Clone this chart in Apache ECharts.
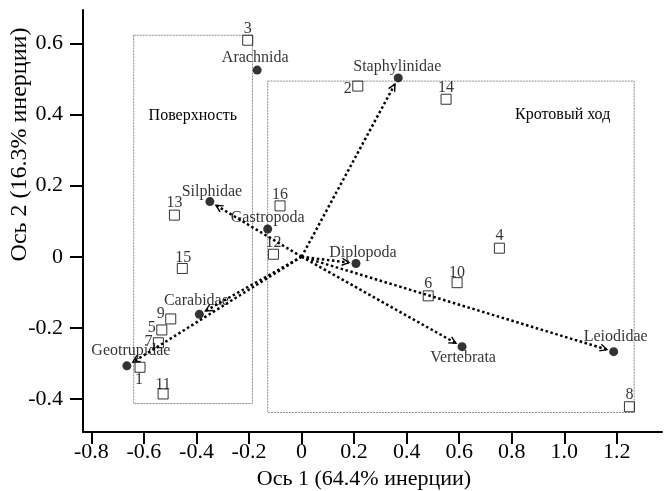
<!DOCTYPE html>
<html><head><meta charset="utf-8">
<script src="https://cdn.jsdelivr.net/npm/echarts@6/dist/echarts.min.js"></script>
<style>html,body{margin:0;padding:0;background:#fff}#c{width:664px;height:491px}</style>
</head><body><div id="c"></div>
<script>
// ---- data ----
const taxaNames = ['Arachnida','Staphylinidae','Silphidae','Gastropoda','Diplopoda','Carabidae','Geotrupidae','Vertebrata','Leiodidae'];
const taxaX = [-0.169, 0.368, -0.349, -0.129, 0.207, -0.389, -0.665, 0.611, 1.188];
const taxaY = [0.525, 0.503, 0.155, 0.078, -0.019, -0.162, -0.307, -0.253, -0.267];
const arrowTaxa = ['Staphylinidae','Silphidae','Diplopoda','Carabidae','Geotrupidae','Vertebrata','Leiodidae'];
const siteNames = ['1','2','3','4','5','6','7','8','9','10','11','12','13','14','15','16'];
const siteX = [-0.615, 0.214, -0.205, 0.753, -0.532, 0.482, -0.545, 1.248, -0.498, 0.592, -0.527, -0.107, -0.484, 0.550, -0.454, -0.082];
const siteY = [-0.311, 0.480, 0.609, 0.024, -0.206, -0.110, -0.242, -0.422, -0.175, -0.073, -0.386, 0.007, 0.117, 0.443, -0.033, 0.143];
const groupNames = ['Поверхность','Кротовый ход'];
const groupXMin = [-0.639, -0.129];
const groupXMax = [-0.187, 1.266];
const groupYMin = [-0.413, -0.438];
const groupYMax = [0.623, 0.494];
const groupLabelX = [-0.414, 0.994];
const groupLabelY = [0.397, 0.400];
const xTicks = [-0.8, -0.6, -0.4, -0.2, 0, 0.2, 0.4, 0.6, 0.8, 1.0, 1.2];
const yTicks = [-0.4, -0.2, 0, 0.2, 0.4, 0.6];
const xTitle = 'Ось 1 (64.4% инерции)';
const yTitle = 'Ось 2 (16.3% инерции)';

// ---- label placement (pixels, relative to mark centre) ----
const taxaLabelOffset = {
  Arachnida:[-2,-12], Staphylinidae:[-1,-11], Silphidae:[2,-10], Gastropoda:[0,-11],
  Diplopoda:[7,-11], Carabidae:[-3,-14], Geotrupidae:[4,-15], Vertebrata:[1,11], Leiodidae:[2,-15]
};
const siteLabelOffset = {
  '1':[-1,13], '2':[-10,3], '3':[0,-11], '4':[0,-12], '5':[-10,-2], '6':[0,-12], '7':[-10,-1],
  '8':[0,-12], '9':[-10,-5], '10':[0,-10], '11':[0,-9], '12':[0,-11], '13':[0,-12], '14':[0,-11],
  '15':[1,-11], '16':[0,-11]
};

const FONT = '"Liberation Serif","Times New Roman",serif';
const chart = echarts.init(document.getElementById('c'), null, {renderer:'canvas'});

const taxaData = taxaNames.map((n,i)=>({name:n, value:[taxaX[i], taxaY[i]], label:{offset:taxaLabelOffset[n]}}));
const siteData = siteNames.map((n,i)=>({name:n, value:[siteX[i], siteY[i]], label:{offset:siteLabelOffset[n]}}));
const arrowData = arrowTaxa.map(n=>{const i=taxaNames.indexOf(n); return [taxaX[i], taxaY[i]];});
const rectData = groupNames.map((n,i)=>[groupXMin[i], groupYMin[i], groupXMax[i], groupYMax[i]]);
const groupLabelData = groupNames.map((n,i)=>[groupLabelX[i], groupLabelY[i], i]);

const option = {
  backgroundColor:'#fff',
  animation:false,
  grid:{left:83, right:2, top:10, bottom:59, containLabel:false, outerBoundsMode:'none'},
  xAxis:{
    type:'value', min:-0.832, max:1.372,
    axisLine:{show:true, onZero:false, lineStyle:{color:'#000', width:2}},
    axisTick:{show:true, inside:false, length:12, customValues:xTicks, lineStyle:{color:'#000', width:2}},
    axisLabel:{customValues:xTicks, margin:9, color:'#000', fontFamily:FONT, fontSize:22,
      formatter:v=> Math.abs(v)<1e-9 ? '0' : v.toFixed(1)},
    splitLine:{show:false},
    name:xTitle, nameLocation:'middle', nameGap:36, nameMoveOverlap:false,
    nameTextStyle:{color:'#000', fontFamily:FONT, fontSize:22, padding:[0,17,0,0]}
  },
  yAxis:{
    type:'value', min:-0.493, max:0.694,
    axisLine:{show:true, onZero:false, lineStyle:{color:'#000', width:2}},
    axisTick:{show:true, inside:false, length:13, customValues:yTicks, lineStyle:{color:'#000', width:2}},
    axisLabel:{customValues:yTicks, margin:20, color:'#000', fontFamily:FONT, fontSize:22,
      formatter:v=> Math.abs(v)<1e-9 ? '0' : v.toFixed(1)},
    splitLine:{show:false},
    name:yTitle, nameLocation:'middle', nameGap:51, nameRotate:90, nameMoveOverlap:false,
    nameTextStyle:{color:'#000', fontFamily:FONT, fontSize:24, padding:[0,0,0,153]}
  },
  series:[
    {
      type:'custom', data:rectData, z:1, silent:true,
      renderItem:(params, api)=>{
        const a = api.coord([api.value(0), api.value(3)]);
        const b = api.coord([api.value(2), api.value(1)]);
        return {type:'rect', shape:{x:a[0], y:a[1], width:b[0]-a[0], height:b[1]-a[1]},
          style:{fill:'none', stroke:'#8a8a8a', lineWidth:1, lineDash:[2,1]}};
      }
    },
    {
      type:'custom', data:groupLabelData, z:2, silent:true,
      renderItem:(params, api)=>{
        const p = api.coord([api.value(0), api.value(1)]);
        return {type:'text', x:p[0], y:p[1],
          style:{text:groupNames[api.value(2)], fill:'#000', font:'16px '+FONT, align:'center', verticalAlign:'middle'}};
      }
    },
    {
      type:'custom', data:arrowData, z:3, silent:true,
      renderItem:(params, api)=>{
        const o = api.coord([0,0]);
        const p = api.coord([api.value(0), api.value(1)]);
        const dx=p[0]-o[0], dy=p[1]-o[1], L=Math.hypot(dx,dy), ux=dx/L, uy=dy/L;
        const tip=[p[0]-ux*7, p[1]-uy*7];
        const hl=7, hw=3.5;
        const b=[tip[0]-ux*hl, tip[1]-uy*hl];
        const l=[b[0]-uy*hw, b[1]+ux*hw], r=[b[0]+uy*hw, b[1]-ux*hw];
        return {type:'group', children:[
          {type:'line', shape:{x1:o[0], y1:o[1], x2:tip[0], y2:tip[1]},
            style:{stroke:'#000', lineWidth:2.5, lineDash:[2.5,2.6]}},
          {type:'polyline', shape:{points:[l, tip, r]},
            style:{stroke:'#000', lineWidth:1.4, fill:'none'}}
        ]};
      }
    },
    {
      type:'scatter', data:siteData, z:4, symbol:'rect', symbolSize:10,
      itemStyle:{color:'rgba(255,255,255,0)', borderColor:'#000', borderWidth:1},
      label:{show:true, position:'inside', formatter:'{b}', color:'#000', fontFamily:FONT, fontSize:16}
    },
    {
      type:'scatter', data:taxaData, z:5, symbol:'circle', symbolSize:9,
      itemStyle:{color:'#000'},
      label:{show:true, position:'inside', formatter:'{b}', color:'#000', fontFamily:FONT, fontSize:16}
    }
  ]
};
chart.setOption(option);
</script>
</body></html>
